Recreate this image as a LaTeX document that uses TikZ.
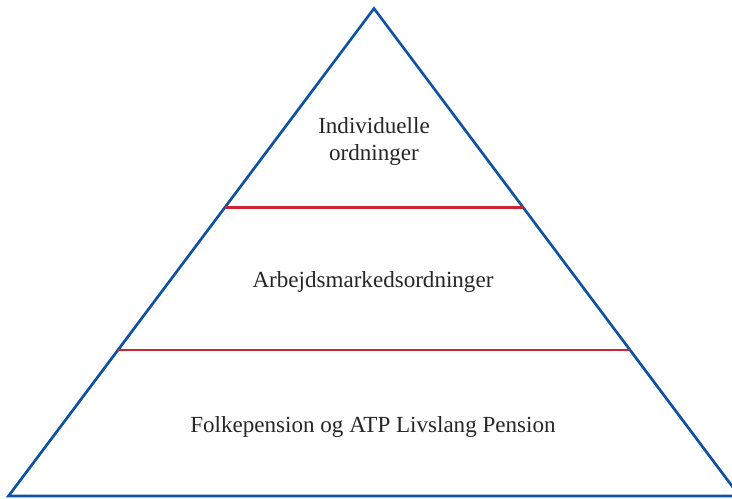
\documentclass[tikz,border=0pt]{standalone}
\usepackage{fontspec}
\setmainfont{Liberation Serif}
\usetikzlibrary{calc}
\definecolor{pyrblue}{RGB}{16,82,162}
\definecolor{pyrred}{RGB}{204,36,52}
\tikzset{every picture/.style={line width=0.75pt}}
\tikzset{
  edge/.style={draw=pyrblue, line width=2pt, line join=miter},
  layer/.style={draw=pyrred, line width=1.8pt},
  lbl/.style={inner sep=0.75pt, align=center, font=\fontsize{17.3}{20.5}\selectfont, text=black!85}
}

\begin{document}
\begin{tikzpicture}[x=0.75pt,y=0.75pt,yscale=-1,xscale=1]
\useasboundingbox (0,0) rectangle (732,499);

%Shape: Triangle
\coordinate (apex) at (374,8.5);
\coordinate (bl) at (8.5,496);
\coordinate (br) at (739.5,496);
\draw [edge] (apex) -- (bl) -- (br) -- cycle ;

%Straight Lines
\coordinate (l1a) at ($(apex)!0.4078!(bl)$);
\coordinate (l1b) at ($(apex)!0.4078!(br)$);
\coordinate (l2a) at ($(apex)!0.7008!(bl)$);
\coordinate (l2b) at ($(apex)!0.7008!(br)$);
\draw [layer] (l1a) -- (l1b) ;
\draw [layer] (l2a) -- (l2b) ;

% Text Node
\node [lbl] (top) at (374,141.5) {Individuelle\\ordninger};
% Text Node
\node [lbl] (mid) at (373,282) {Arbejdsmarkedsordninger};
% Text Node
\node [lbl] (base) at (373,427) {Folkepension og ATP Livslang Pension};

\end{tikzpicture}
\end{document}
